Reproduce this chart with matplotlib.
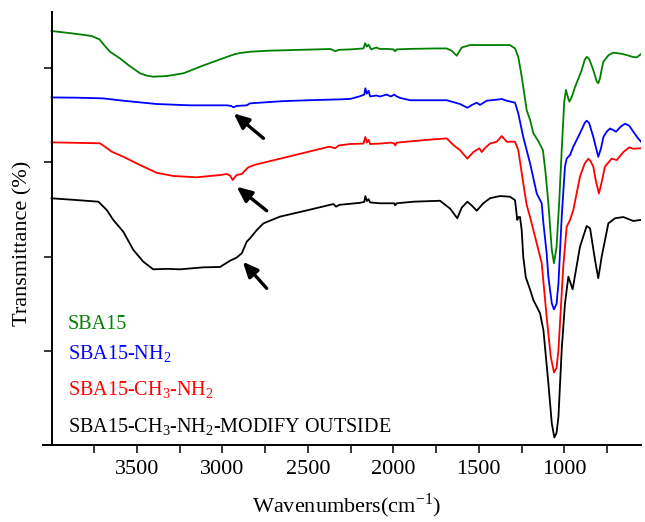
import numpy as np
import matplotlib.pyplot as plt

plt.rcParams['font.family'] = 'Liberation Serif'
plt.rcParams['mathtext.fontset'] = 'custom'
plt.rcParams['mathtext.rm'] = 'Liberation Serif'

# FTIR spectra (wavenumber, offset transmittance)
sba_wn = [4000, 3880, 3765, 3720, 3690, 3658, 3600, 3551, 3482, 3440, 3405, 3326, 3229, 3180,
          3131, 3014, 2927, 2900, 2839, 2730, 2550, 2367, 2340, 2320, 2250, 2175, 2165, 2155,
          2145, 2130, 2100, 2078, 2040, 2000, 1990, 1980, 1900, 1750, 1688, 1659, 1629, 1600,
          1551, 1318, 1288, 1269, 1249, 1220, 1200, 1181, 1150, 1125, 1110, 1093, 1073, 1060,
          1045, 1029, 1015, 1000, 990, 980, 970, 955, 937, 900, 880, 869, 855, 840, 830, 810,
          801, 790, 780, 771, 740, 713, 670, 635, 600, 576, 551]
sba_t = [4.395, 4.37, 4.342, 4.307, 4.24, 4.175, 4.105, 4.034, 3.946, 3.92, 3.91, 3.917, 3.946, 3.98,
         4.016, 4.094, 4.15, 4.16, 4.175, 4.186, 4.195, 4.204, 4.18, 4.195, 4.20, 4.21, 4.265, 4.23,
         4.25, 4.20, 4.22, 4.204, 4.205, 4.20, 4.18, 4.20, 4.205, 4.21, 4.21, 4.186, 4.133, 4.22,
         4.246, 4.246, 4.21, 4.12, 3.91, 3.556, 3.45, 3.31, 3.22, 3.13, 2.90, 2.566, 2.07, 1.93,
         2.105, 2.60, 3.13, 3.65, 3.77, 3.70, 3.645, 3.70, 3.80, 3.97, 4.09, 4.12, 4.10, 4.03, 3.98, 3.86,
         3.84, 3.90, 4.00, 4.07, 4.14, 4.165, 4.155, 4.14, 4.12, 4.115, 4.15]

nh2_wn = [4000, 3850, 3700, 3580, 3385, 3190, 2975, 2950, 2936, 2915, 2858, 2839, 2650, 2496,
          2303, 2250, 2200, 2170, 2164, 2155, 2145, 2136, 2100, 2078, 2040, 2014, 1995, 1980,
          1960, 1903, 1688, 1610, 1567, 1540, 1512, 1493, 1454, 1400, 1366, 1337, 1288, 1269,
          1240, 1200, 1161, 1132, 1122, 1103, 1093, 1073, 1060, 1045, 1034, 1015, 996, 986, 966,
          947, 908, 880, 869, 855, 830, 801, 785, 771, 750, 732, 710, 697, 670, 645, 620, 596,
          570, 551]
nh2_t = [3.69, 3.687, 3.68, 3.655, 3.62, 3.606, 3.606, 3.60, 3.585, 3.60, 3.606, 3.627, 3.65, 3.66,
         3.67, 3.675, 3.70, 3.72, 3.787, 3.73, 3.76, 3.70, 3.71, 3.70, 3.72, 3.70, 3.72, 3.70,
         3.685, 3.66, 3.66, 3.62, 3.58, 3.61, 3.634, 3.61, 3.655, 3.665, 3.673, 3.655, 3.634, 3.52,
         3.27, 2.99, 2.67, 2.566, 2.353, 2.035, 1.787, 1.504, 1.44, 1.50, 1.716, 2.42, 2.955, 3.04, 3.08,
         3.167, 3.31, 3.42, 3.443, 3.42, 3.27, 3.06, 3.15, 3.27, 3.33, 3.36, 3.34, 3.326, 3.38, 3.41, 3.39, 3.326,
         3.26, 3.22]

ch3_wn = [4000, 3717, 3690, 3648, 3580, 3482, 3385, 3288, 3151, 3014, 2975, 2955, 2940, 2925,
          2917, 2887, 2849, 2810, 2617, 2375, 2340, 2320, 2255, 2175, 2164, 2155, 2145, 2136,
          2078, 2014, 1995, 1990, 1980, 1800, 1688, 1649, 1610, 1567, 1532, 1497, 1483, 1460,
          1434, 1395, 1366, 1337, 1288, 1269, 1240, 1220, 1200, 1161, 1132, 1103, 1079, 1060,
          1045, 1034, 1006, 986, 966, 947, 908, 880, 859, 845, 830, 815, 797, 780, 762, 723, 693,
          654, 620, 596, 551]
ch3_t = [3.213, 3.203, 3.17, 3.114, 3.06, 2.972, 2.89, 2.856, 2.842, 2.866, 2.877, 2.86, 2.813, 2.85,
         2.866, 2.877, 2.948, 2.975, 3.06, 3.167, 3.15, 3.18, 3.195, 3.20, 3.27, 3.21, 3.24, 3.195,
         3.20, 3.21, 3.20, 3.18, 3.21, 3.24, 3.255, 3.185, 3.13, 3.04, 3.11, 3.15, 3.11, 3.16,
         3.20, 3.22, 3.28, 3.22, 3.22, 3.13, 2.78, 2.55, 2.42, 2.14, 1.93, 1.36, 0.937, 0.77,
         0.82, 1.01, 1.89, 2.317, 2.39, 2.495, 2.85, 2.99, 3.04, 3.01, 2.955, 2.80, 2.67, 2.80, 2.955, 3.04, 3.025,
         3.11, 3.16, 3.145, 3.15]

out_wn = [4000, 3850, 3726, 3677, 3639, 3580, 3521, 3463, 3405, 3326, 3248, 3112, 3014, 2956,
          2917, 2887, 2858, 2839, 2800, 2760, 2664, 2496, 2351, 2335, 2315, 2200, 2170, 2164,
          2155, 2145, 2136, 2078, 1995, 1990, 1980, 1883, 1727, 1668, 1626, 1600, 1567, 1540,
          1512, 1474, 1434, 1376, 1318, 1288, 1275, 1267, 1259, 1249, 1240, 1225, 1200, 1181,
          1142, 1122, 1093, 1073, 1058, 1045, 1034, 1015, 996, 976, 951, 908, 869, 849, 820, 801,
          781, 742, 703, 654, 596, 551]
out_t = [2.619, 2.60, 2.583, 2.495, 2.39, 2.264, 2.07, 1.946, 1.865, 1.87, 1.865, 1.886, 1.89, 1.956,
         1.99, 2.035, 2.158, 2.194, 2.28, 2.353, 2.424, 2.495, 2.558, 2.53, 2.55, 2.57, 2.58, 2.643,
         2.59, 2.61, 2.575, 2.566, 2.566, 2.545, 2.566, 2.583, 2.593, 2.51, 2.407, 2.52, 2.583, 2.54,
         2.487, 2.566, 2.62, 2.643, 2.636, 2.60, 2.39, 2.42, 2.42, 2.28, 2.0, 1.78, 1.65, 1.54,
         1.40, 1.22, 0.655, 0.23, 0.08, 0.13, 0.30, 1.01, 1.50, 1.787, 1.653, 2.105, 2.325, 2.30, 1.964, 1.77,
         2.0, 2.353, 2.407, 2.42, 2.378, 2.39]

names = ['SBA15', 'SBA15-NH$_\\mathregular{2}$', 'SBA15-CH$_\\mathregular{3}$-NH$_\\mathregular{2}$',
         'SBA15-CH$_\\mathregular{3}$-NH$_\\mathregular{2}$-MODIFY OUTSIDE']
colors = ['#008000', '#0000ff', '#ff0000', 'black']

# arrows marking the C-H band (tip wn, tip T, tail wn, tail T)
arrow_tip_wn = [2934, 2917, 2881]
arrow_tip_t = [3.52, 2.742, 1.946]
arrow_tail_wn = [2760, 2741, 2741]
arrow_tail_t = [3.256, 2.487, 1.663]

fig = plt.figure(figsize=(6.45, 5.22), dpi=100)
ax = fig.add_axes([43/645, 77/522, 598/645, 433.3/522])

series = [(sba_wn, sba_t), (nh2_wn, nh2_t), (ch3_wn, ch3_t), (out_wn, out_t)]
for (w, t), c in zip(series, colors):
    ax.plot(w, t, color=c, lw=1.3, solid_joinstyle='round')

for i in range(3):
    ax.annotate('', xy=(arrow_tip_wn[i], arrow_tip_t[i]),
                xytext=(arrow_tail_wn[i], arrow_tail_t[i]),
                arrowprops=dict(arrowstyle='-|>,head_length=0.9,head_width=0.4',
                                color='black', lw=2.4, shrinkA=0, shrinkB=0))

ax.set_xlim(4050, 551)
ax.set_ylim(0, 4.6)
ax.spines['top'].set_visible(False)
ax.spines['right'].set_visible(False)
ax.spines['left'].set_position(('data', 4000))
ax.spines['left'].set_linewidth(1.4)
ax.spines['bottom'].set_linewidth(1.4)

ax.set_xticks([3500, 3000, 2500, 2000, 1500, 1000])
ax.set_xticks([3750, 3250, 2750, 2250, 1750, 1250, 750], minor=True)
ax.set_yticks([1, 2, 3, 4])
ax.set_yticklabels([])
ax.tick_params(axis='both', which='both', direction='out', length=6, width=1.1)
ax.tick_params(axis='x', labelsize=16, pad=5)

fig.text(23/645, 0.5335, 'Transmittance (%)', rotation=90, fontsize=16,
         ha='center', va='center')
fig.text(346/645, 0.018, 'Wavenumbers(cm$^\\mathregular{-1}$)', fontsize=16,
         ha='center', va='baseline')

label_y = [0.267, 0.198, 0.113, 0.0284]
for n, c, yy in zip(names, colors, label_y):
    ax.text(0.0418, yy, n, color=c, fontsize=14.5, transform=ax.transAxes, va='baseline')

fig.savefig('out.png', dpi=100)
